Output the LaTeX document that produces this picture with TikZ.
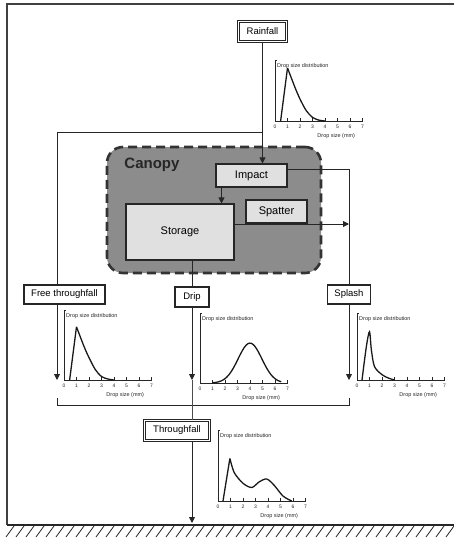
\documentclass[tikz,border=0pt]{standalone}
\usepackage{fontspec}
\setmainfont{Liberation Sans}
\usetikzlibrary{arrows.meta}
\definecolor{canopygray}{gray}{0.55}
\definecolor{boxgray}{gray}{0.88}
\tikzset{
	>={Triangle[length=6pt,width=6pt]},
	inbox/.style={draw=black!85, fill=boxgray, line width=1.1pt, inner sep=0pt, font=\fontsize{11}{11}\selectfont},
	outbox/.style={draw=black!85, fill=white, line width=1.1pt, inner sep=0pt, font=\fontsize{9.5}{10}\selectfont},
	dblbox/.style={outbox, double, double distance=1.5pt, line width=1pt},
	canopy/.style={draw=black!80, fill=canopygray, line width=2.6pt, dash pattern=on 9pt off 5pt, rounded corners=16pt},
	curve/.style={line width=1.3pt, black!90},
	tinytxt/.style={font=\fontsize{5.5}{6}\selectfont, inner sep=0pt},
	link/.style={line width=0.9pt, black!85},
}
\newcommand{\dropplot}[4]{%
	\begin{scope}[shift={(#1,#2)}, x=12.5pt, y=#3pt, black!85]
		\draw[line width=0.8pt] (0.15,1) -- (0,1) -- (0,0) -- (7,0);
		\foreach \i in {1,...,7} \draw[line width=0.7pt] (\i,0) -- ++(0,3pt);
		\foreach \i in {0,...,7} \node[tinytxt, font=\fontsize{5}{5}\selectfont, yshift=-6pt] at (\i,0) {\i};
		\node[tinytxt, anchor=north west, xshift=2pt, yshift=-3pt] at (0,1) {Drop size distribution};
		\node[tinytxt, yshift=-15pt] at (4.9,0) {Drop size (mm)};
		#4
	\end{scope}}

\begin{document}
\begin{tikzpicture}[x=1pt, y=-1pt]
	\useasboundingbox (0,0) rectangle (454,542);
	\draw[line width=1.6pt, black!75] (454,4) -- (7,4) -- (7,525);

	\node[canopy, minimum width=214pt, minimum height=126pt] (canopy) at (214,210) {};
	\node[font=\bfseries\fontsize{15}{15}\selectfont, black!85] (canopytitle) at (152,165) {Canopy};

	\node[dblbox, minimum width=48pt, minimum height=20pt] (rain) at (262.5,31.5) {Rainfall};
	\node[inbox, minimum width=71pt, minimum height=23pt] (impact) at (251.5,175.5) {Impact};
	\node[inbox, minimum width=108pt, minimum height=56pt] (storage) at (180,232) {Storage};
	\node[inbox, minimum width=61pt, minimum height=23pt] (spatter) at (276.5,211.5) {Spatter};
	\node[outbox, minimum width=81pt, minimum height=19pt] (free) at (64.5,294.5) {Free throughfall};
	\node[outbox, minimum width=34pt, minimum height=20pt] (drip) at (192,297) {Drip};
	\node[outbox, minimum width=43pt, minimum height=19pt] (splash) at (349,294.5) {Splash};
	\node[dblbox, minimum width=65pt, minimum height=20pt] (thr) at (177,430.5) {Throughfall};

	\coordinate (split) at (rain.south |- 0,132);
	\coordinate (freein) at ([xshift=-7.5pt]free.north);
	\coordinate (impout) at ([yshift=6.5pt]impact.east);
	\coordinate (impdown) at ([xshift=-30pt]impact.south);
	\coordinate (storout) at ([yshift=8pt]storage.east);
	\coordinate (freeend) at (freein |- 0,380);
	\coordinate (dripend) at (drip.south |- 0,380);
	\coordinate (splashend) at (splash.south |- 0,380);
	\coordinate (ground) at (0,523);

	\draw[link, ->] (rain) -- (rain |- impact.north);
	\draw[link] (split) -| (freein);
	\draw[link, ->] (impdown) -- (impdown |- storage.north);
	\draw[link] (impout) -| (splash.north);
	\draw[link, ->] (storout) -- (storout -| splash.north);
	\draw[link] (drip.north |- storage.south) -- (drip.north);
	\draw[link, ->] (freein |- free.south) -- (freeend);
	\draw[link, ->] (drip) -- (dripend);
	\draw[link, ->] (splash) -- (splashend);
	\draw[link] ([yshift=-18pt]freeend) -- ([yshift=-25pt]freeend) -- ([yshift=-25pt]splashend) -- ([yshift=-18pt]splashend);
	\draw[line width=0.7pt, black!70] (dripend) -- (dripend |- thr.north);
	\draw[link, ->] (dripend |- thr.south) -- (dripend |- ground);

	\dropplot{275}{121}{61}{\draw[curve] (0.45,0) -- (1,0.87) plot[smooth] coordinates {(1,0.87) (1.6,0.55) (2,0.36) (2.5,0.17) (3,0.06) (3.5,0.015) (4,0)};}
	\dropplot{64}{380}{70}{\draw[curve] (0.45,0) -- (1,0.76) plot[smooth] coordinates {(1,0.76) (1.6,0.48) (2,0.32) (2.5,0.15) (3,0.05) (3.5,0.015) (4,0)};}
	\dropplot{200}{383}{70}{\draw[curve] plot[domain=1:6.5, samples=40, smooth] (\x,{0.57*exp(-(\x-4)^2/(2*0.95^2))});}
	\dropplot{357}{380}{67}{\draw[curve] plot[smooth] coordinates {(0.4,0) (0.75,0.5) (1,0.72) (1.15,0.45) (1.4,0.2) (2,0.08) (2.5,0.03) (3,0)};}
	\dropplot{218}{501}{71}{\draw[curve] (0.4,0) -- (0.95,0.6) plot[smooth] coordinates {(0.95,0.6) (1.3,0.4) (2,0.25) (2.7,0.19) (3.3,0.27) (3.9,0.31) (4.5,0.22) (5.2,0.07) (5.9,0)};}

	\draw[line width=1.1pt, black!85] (7,525) -- (454,525);
	\foreach \x in {14,24,...,454} \draw[line width=0.8pt, black!85] ({\x-8},537) -- (\x,526);
\end{tikzpicture}
\end{document}
